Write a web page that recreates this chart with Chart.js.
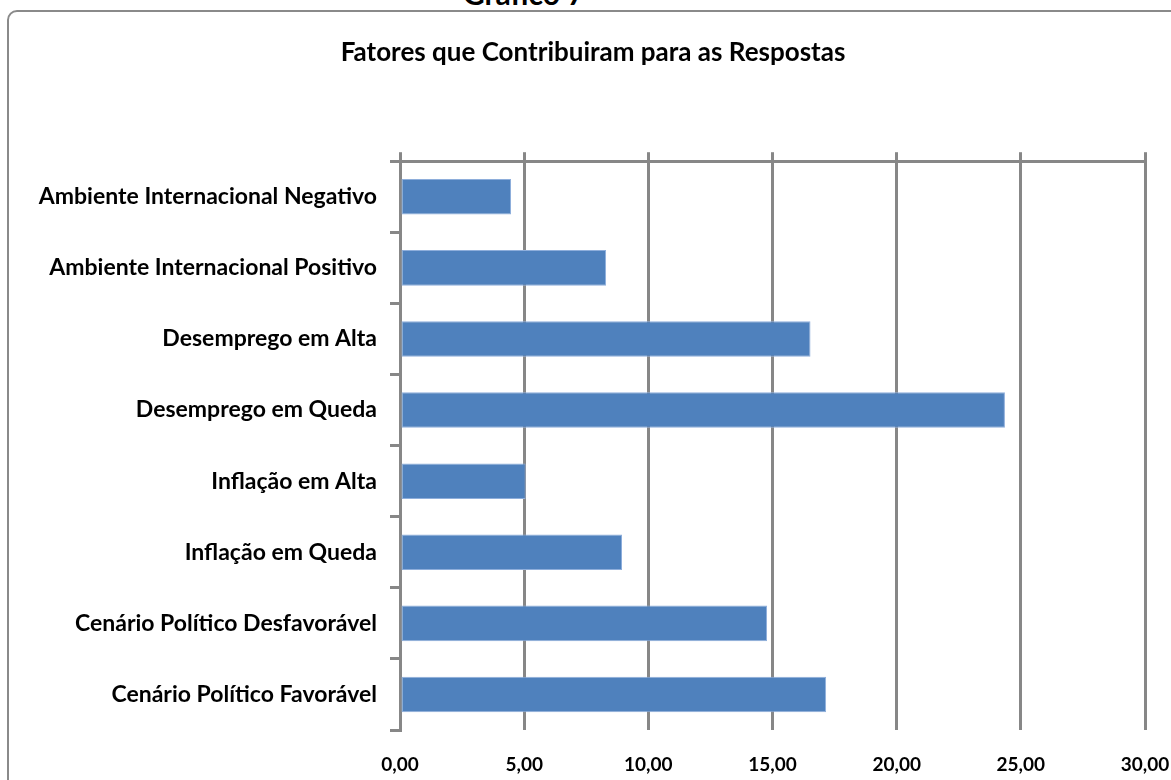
<!DOCTYPE html>
<html>
<head>
<meta charset="utf-8">
<script src="https://cdn.jsdelivr.net/npm/chart.js@4/dist/chart.umd.min.js"></script>
<style>
  html, body { margin: 0; padding: 0; background: #fff; overflow: hidden; }
  #wrap { position: relative; width: 1171px; height: 780px; overflow: hidden; }
  #frame {
    position: absolute; left: 7px; top: 10px; width: 1300px; height: 900px;
    border: 2px solid #8a8a8a; border-radius: 10px; box-sizing: border-box;
  }
  #caption {
    position: absolute; left: 463px; top: -22px; font: bold 30px Lato, sans-serif;
    line-height: 30px; color: #000; white-space: nowrap;
  }
  #chart { position: absolute; left: 0; top: 0; }
</style>
</head>
<body>
<div id="wrap">
  <div id="caption">Gráfico 7</div>
  <div id="frame"></div>
  <canvas id="chart" width="1171" height="780"></canvas>
</div>
<script>
const TITLE = "Fatores que Contribuiram para as Respostas";

const categories = [
  "Ambiente Internacional Negativo",
  "Ambiente Internacional Positivo",
  "Desemprego em Alta",
  "Desemprego em Queda",
  "Inflação em Alta",
  "Inflação em Queda",
  "Cenário Político Desfavorável",
  "Cenário Político Favorável"
];

const shares = [4.47, 8.30, 16.53, 24.36, 5.06, 8.94, 14.78, 17.16];

const xTickLabels = ["0,00", "5,00", "10,00", "15,00", "20,00", "25,00", "30,00"];

const AXIS_GRAY = '#878787';

new Chart(document.getElementById("chart"), {
  type: 'bar',
  data: {
    labels: categories,
    datasets: [{
      data: shares,
      backgroundColor: '#4f81bd',
      borderColor: '#8eaedb',
      borderWidth: 1,
      borderSkipped: false,
      categoryPercentage: 1,
      barPercentage: 0.5
    }]
  },
  options: {
    indexAxis: 'y',
    responsive: false,
    animation: false,
    layout: { padding: { left: 15, right: 0, top: 0, bottom: 0 } },
    plugins: {
      legend: { display: false },
      tooltip: { enabled: false },
      title: {
        display: true,
        text: TITLE,
        color: '#000',
        font: { family: 'Lato', weight: 'bold', size: 26 },
        padding: { top: 37, bottom: 84 }
      }
    },
    scales: {
      x: {
        position: 'bottom',
        min: 0,
        max: 30,
        ticks: {
          stepSize: 5,
          padding: 23,
          color: '#000',
          font: { family: 'Lato', weight: 'bold', size: 19 },
          callback: (v, i) => xTickLabels[i]
        },
        grid: { color: AXIS_GRAY, lineWidth: 3, drawTicks: false },
        border: { display: false },
        afterFit: s => { s.height = 50; s.paddingLeft = 0; s.paddingRight = 26; }
      },
      xTop: {
        position: 'top',
        min: 0,
        max: 30,
        ticks: { stepSize: 5, display: false },
        grid: { color: AXIS_GRAY, lineWidth: 3, drawOnChartArea: false, drawTicks: true, tickLength: 9 },
        border: { display: true, color: AXIS_GRAY, width: 3 },
        afterFit: s => { s.height = 9; s.paddingLeft = 0; s.paddingRight = 0; }
      },
      y: {
        ticks: {
          padding: 13,
          color: '#000',
          font: { family: 'Lato', weight: 'bold', size: 23 }
        },
        grid: { color: AXIS_GRAY, lineWidth: 3, drawOnChartArea: false, drawTicks: true, tickLength: 10, offset: true },
        border: { display: true, color: AXIS_GRAY, width: 3 },
        afterFit: s => { s.width = 385; }
      }
    }
  }
});
</script>
</body>
</html>
